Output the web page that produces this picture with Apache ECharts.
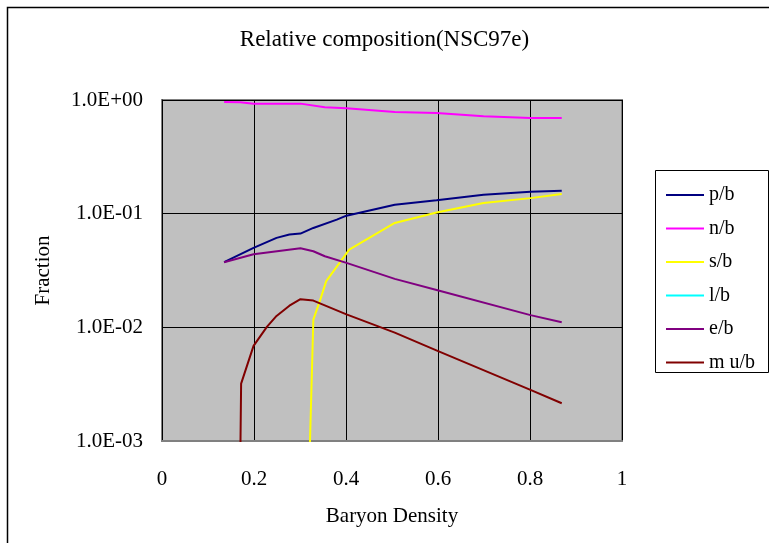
<!DOCTYPE html>
<html>
<head>
<meta charset="utf-8">
<script src="https://cdn.jsdelivr.net/npm/echarts@6/dist/echarts.min.js"></script>
<style>
  html, body { margin: 0; padding: 0; background: #fff; }
  #main { width: 769px; height: 543px; }
</style>
</head>
<body>
<div id="main"></div>
<script>
// values (x = baryon density, y = fraction)
const pbX = [0.135, 0.199, 0.249, 0.277, 0.301, 0.329, 0.38, 0.401, 0.506, 0.597, 0.699, 0.801, 0.869]
const pbY = [0.0374, 0.050, 0.0612, 0.0655, 0.0668, 0.0749, 0.0886, 0.096, 0.120, 0.131, 0.147, 0.156, 0.159]

const nbX = [0.135, 0.17, 0.199, 0.301, 0.354, 0.401, 0.506, 0.597, 0.699, 0.801, 0.869]
const nbY = [0.96, 0.955, 0.929, 0.929, 0.863, 0.845, 0.785, 0.769, 0.72, 0.695, 0.695]

const sbX = [0.315, 0.329, 0.343, 0.357, 0.407, 0.506, 0.597, 0.699, 0.801, 0.869]
const sbY = [0.0001, 0.0117, 0.017, 0.0255, 0.0483, 0.0828, 0.1025, 0.124, 0.137, 0.149]

const lbX = []
const lbY = []

const ebX = [0.135, 0.199, 0.301, 0.329, 0.354, 0.401, 0.506, 0.599, 0.801, 0.869]
const ebY = [0.0374, 0.044, 0.0496, 0.0467, 0.0422, 0.0369, 0.0267, 0.0212, 0.0128, 0.0111]

const mubX = [0.168, 0.172, 0.199, 0.228, 0.249, 0.277, 0.301, 0.329, 0.401, 0.506, 0.599, 0.801, 0.869]
const mubY = [0.0001, 0.0032, 0.00686, 0.0101, 0.0126, 0.0155, 0.0177, 0.0172, 0.013, 0.00898, 0.0062, 0.00282, 0.00215]

const seriesNames = ['p/b', 'n/b', 's/b', 'l/b', 'e/b', 'mu/b']
const legendLabels = ['p/b', 'n/b', 's/b', 'l/b', 'e/b', 'm u/b']
const seriesColors = ['#000080', '#ff00ff', '#ffff00', '#00ffff', '#800080', '#800000']
const xTicks = [0, 0.2, 0.4, 0.6, 0.8, 1]

const allX = [pbX, nbX, sbX, lbX, ebX, mubX]
const allY = [pbY, nbY, sbY, lbY, ebY, mubY]

const font = '"Liberation Serif", serif'

function sci(v) {
  const e = Math.round(Math.log10(v))
  const a = Math.abs(e)
  return '1.0E' + (e < 0 ? '-' : '+') + (a < 10 ? '0' + a : a)
}

let mychart = echarts.init(document.getElementById('main'))
let option = {
  animation: false,
  backgroundColor: '#fff',
  title: {
    text: 'Relative composition(NSC97e)',
    left: 'center',
    top: 23,
    textStyle: { fontFamily: font, fontSize: 23, fontWeight: 'normal', color: '#000' }
  },
  graphic: [
    {
      type: 'rect', left: 5, top: 5, z: -10,
      shape: { width: 820, height: 620 },
      style: { fill: 'none', stroke: '#000', lineWidth: 1.5 }
    },
    {
      type: 'rect', left: 655, top: 170, z: 10,
      shape: { width: 113, height: 202 },
      style: { fill: '#fff', stroke: '#000', lineWidth: 1 }
    }
  ],
  legend: {
    orient: 'vertical',
    left: 661,
    top: 180,
    z: 20,
    data: seriesNames,
    icon: 'rect',
    itemWidth: 38,
    itemHeight: 2,
    itemGap: 13.5,
    formatter: name => legendLabels[seriesNames.indexOf(name)],
    textStyle: { fontFamily: font, fontSize: 20, color: '#000', lineHeight: 20 }
  },
  grid: {
    left: 162, top: 100, right: 147, bottom: 102,
    show: true,
    backgroundColor: '#c0c0c0',
    borderColor: '#808080',
    borderWidth: 2
  },
  xAxis: {
    type: 'value',
    min: xTicks[0],
    max: xTicks[xTicks.length - 1],
    interval: 0.2,
    name: 'Baryon Density',
    nameLocation: 'middle',
    nameGap: 65,
    nameTextStyle: { fontFamily: font, fontSize: 21, color: '#000' },
    axisLine: { show: true, lineStyle: { color: '#808080', width: 2 } },
    axisTick: { show: false },
    axisLabel: { fontFamily: font, fontSize: 21, color: '#000', margin: 28 },
    splitLine: { show: true, lineStyle: { color: '#000', width: 1 } }
  },
  yAxis: {
    type: 'log',
    logBase: 10,
    min: 0.001,
    max: 1,
    name: 'Fraction',
    nameLocation: 'middle',
    nameGap: 108,
    nameTextStyle: { fontFamily: font, fontSize: 21, color: '#000' },
    axisLine: { show: true, lineStyle: { color: '#000', width: 1 } },
    axisTick: { show: false },
    axisLabel: { fontFamily: font, fontSize: 21, color: '#000', margin: 19, formatter: sci },
    splitLine: { show: true, lineStyle: { color: '#000', width: 1 } }
  },
  series: seriesNames.map((name, i) => ({
    name: name,
    type: 'line',
    symbol: 'none',
    clip: true,
    color: seriesColors[i],
    lineStyle: { width: 2, color: seriesColors[i] },
    data: allX[i].map((x, j) => [x, allY[i][j]])
  }))
}
mychart.setOption(option)
</script>
</body>
</html>
